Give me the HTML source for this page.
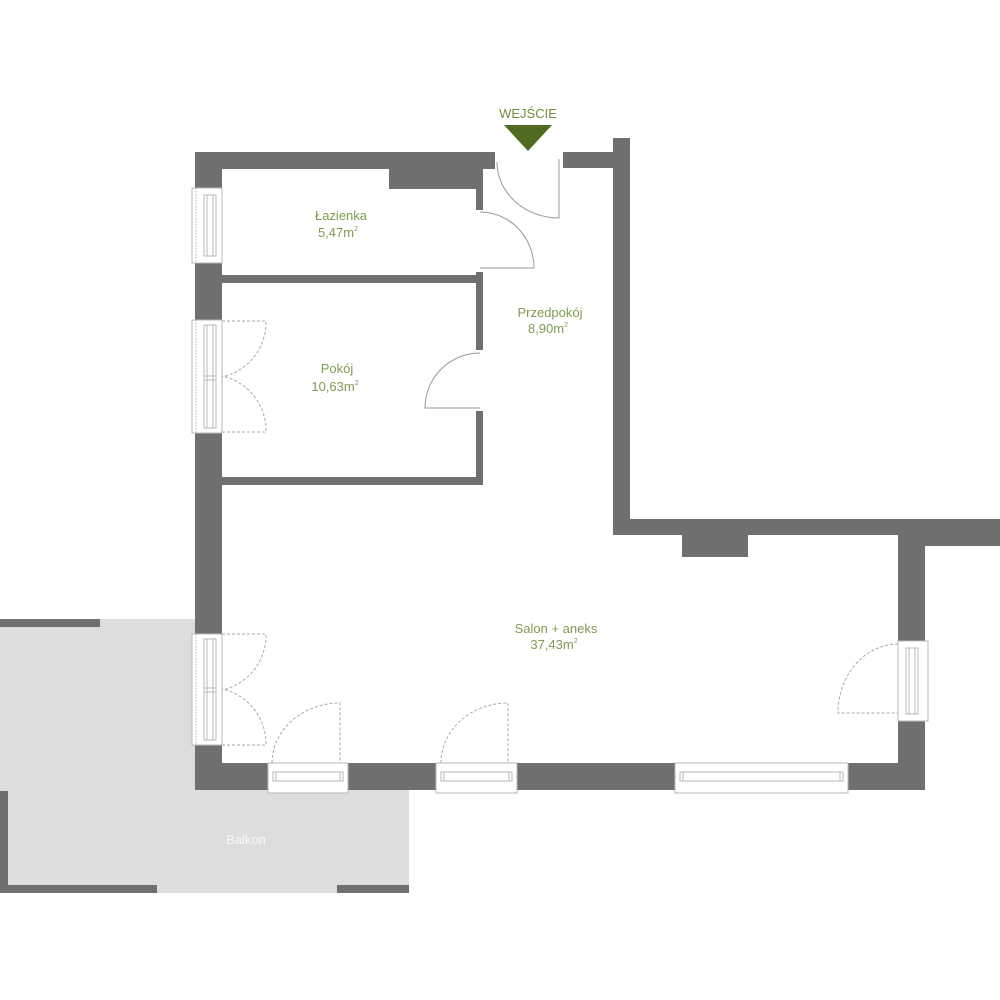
<!DOCTYPE html>
<html><head><meta charset="utf-8"><style>
html,body{margin:0;padding:0;background:#fff;}
svg{display:block;}
text{font-family:"Liberation Sans","DejaVu Sans",sans-serif;}
</style></head><body>
<svg width="1000" height="1000" viewBox="0 0 1000 1000" xmlns="http://www.w3.org/2000/svg">
<!-- balcony -->
<path d="M0 619 H195 V790 H409 V893 H0 Z" fill="#dcdddd"/>
<g fill="#706f6e">
<rect x="0" y="619" width="100" height="8"/>
<rect x="0" y="791" width="8" height="102"/>
<rect x="0" y="885" width="157" height="8"/>
<rect x="337" y="885" width="72" height="8"/>
</g>
<text x="246" y="844" font-size="13" fill="#f7f7f7" text-anchor="middle">Balkon</text>

<!-- walls -->
<g fill="#706f6e">
<rect x="195" y="152" width="300" height="17"/>
<rect x="195" y="152" width="27" height="36"/>
<rect x="195" y="263" width="27" height="57"/>
<rect x="195" y="433" width="27" height="201"/>
<rect x="195" y="745" width="27" height="45"/>
<rect x="195" y="763" width="76" height="27"/>
<rect x="345" y="763" width="94" height="27"/>
<rect x="514" y="763" width="164" height="27"/>
<rect x="845" y="763" width="80" height="27"/>
<rect x="898" y="718" width="27" height="72"/>
<rect x="898" y="535" width="27" height="109"/>
<rect x="389" y="168" width="94" height="21"/>
<rect x="476" y="168" width="7" height="42"/>
<rect x="222" y="275" width="261" height="8"/>
<rect x="476" y="272" width="7" height="78"/>
<rect x="476" y="411" width="7" height="74"/>
<rect x="222" y="477" width="261" height="8"/>
<rect x="563" y="152" width="67" height="16"/>
<rect x="613" y="138" width="17" height="397"/>
<rect x="613" y="519" width="387" height="16"/>
<rect x="898" y="519" width="102" height="27"/>
<rect x="682" y="535" width="66" height="22"/>
</g>

<!-- windows -->
<g fill="#fff" stroke="#b8b8b8" stroke-width="1">
<!-- left vertical windows -->
<rect x="192" y="188" width="30" height="75"/>
<line x1="196" y1="188" x2="196" y2="263" stroke-dasharray="1.5 1.5"/>
<rect x="204" y="195" width="12" height="61"/><line x1="207" y1="195" x2="207" y2="256"/><line x1="213" y1="195" x2="213" y2="256"/>
<rect x="192" y="320" width="30" height="113"/>
<line x1="196" y1="320" x2="196" y2="433" stroke-dasharray="1.5 1.5"/>
<rect x="204" y="325" width="12" height="103"/><line x1="207" y1="325" x2="207" y2="428"/><line x1="213" y1="325" x2="213" y2="428"/><line x1="204" y1="376" x2="216" y2="376"/><line x1="204" y1="380" x2="216" y2="380"/>
<rect x="192" y="634" width="30" height="111"/>
<line x1="196" y1="634" x2="196" y2="745" stroke-dasharray="1.5 1.5"/>
<rect x="204" y="639" width="12" height="101"/><line x1="207" y1="639" x2="207" y2="740"/><line x1="213" y1="639" x2="213" y2="740"/><line x1="204" y1="688" x2="216" y2="688"/><line x1="204" y1="692" x2="216" y2="692"/>
<!-- right window -->
<rect x="898" y="641" width="30" height="80"/>
<rect x="906" y="648" width="12" height="66"/><line x1="909" y1="648" x2="909" y2="714"/><line x1="915" y1="648" x2="915" y2="714"/>
<!-- bottom windows -->
<rect x="268" y="763" width="80" height="30"/>
<rect x="273" y="772" width="70" height="9"/><line x1="276" y1="772" x2="276" y2="781"/><line x1="340" y1="772" x2="340" y2="781"/>
<rect x="436" y="763" width="81" height="30"/>
<rect x="441" y="772" width="71" height="9"/><line x1="444" y1="772" x2="444" y2="781"/><line x1="509" y1="772" x2="509" y2="781"/>
<rect x="675" y="763" width="173" height="30"/>
<rect x="680" y="772" width="163" height="9"/><line x1="683" y1="772" x2="683" y2="781"/><line x1="840" y1="772" x2="840" y2="781"/>
</g>

<!-- dashed door swings -->
<g fill="none" stroke="#aaa" stroke-width="1" stroke-dasharray="3 2">
<path d="M222 321 H266 A56 56 0 0 1 222 377"/>
<path d="M222 432 H266 A56 56 0 0 0 222 376"/>
<path d="M222 634 H266 A56 56 0 0 1 222 690"/>
<path d="M222 745 H266 A56 56 0 0 0 222 689"/>
<path d="M272 763 A68 60 0 0 1 340 703 V763"/>
<path d="M441 763 A67 60 0 0 1 508 703 V763"/>
<path d="M898 644 A60 69 0 0 0 838 713 H898"/>
</g>

<!-- solid doors -->
<g fill="none" stroke="#999" stroke-width="1">
<path d="M497 162 A62 56 0 0 0 559 218 V159"/>
<path d="M480 212 A54 56 0 0 1 534 268 H480"/>
<path d="M480 353 A55 55 0 0 0 425 408 H480"/>
</g>

<!-- entrance -->
<polygon points="504,125 552,125 528,151" fill="#4f6b22"/>
<text x="528" y="118" font-size="13" fill="#6e8f3d" text-anchor="middle">WEJŚCIE</text>

<!-- labels -->
<g font-size="13" fill="#7f9c52" text-anchor="middle">
<text x="341" y="220">Łazienka</text>
<text x="338" y="237">5,47m<tspan font-size="7" dy="-6">2</tspan></text>
<text x="550" y="317">Przedpokój</text>
<text x="548" y="333">8,90m<tspan font-size="7" dy="-6">2</tspan></text>
<text x="337" y="373">Pokój</text>
<text x="335" y="391">10,63m<tspan font-size="7" dy="-6">2</tspan></text>
<text x="556" y="633">Salon + aneks</text>
<text x="554" y="649">37,43m<tspan font-size="7" dy="-6">2</tspan></text>
</g>
</svg>
</body></html>
